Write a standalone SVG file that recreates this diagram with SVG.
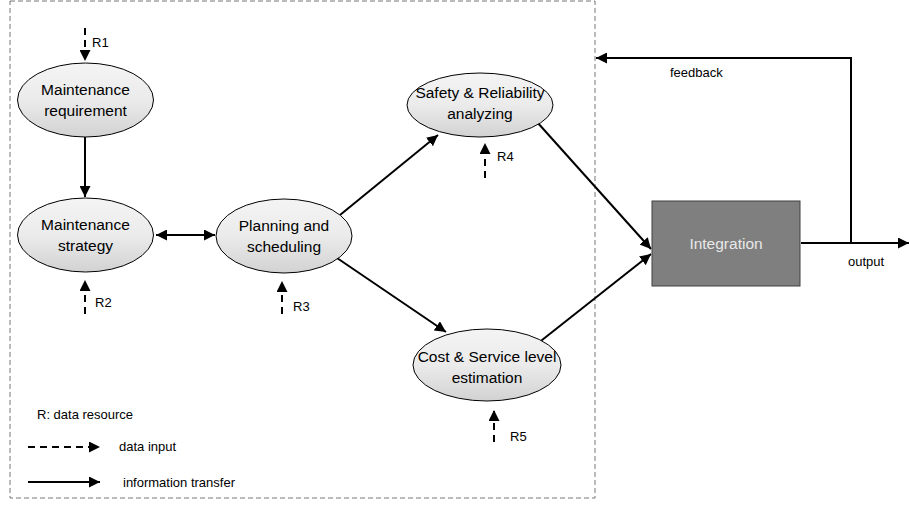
<svg xmlns="http://www.w3.org/2000/svg" width="909" height="506" viewBox="0 0 909 506">
<defs>
<linearGradient id="eg" x1="0" y1="0" x2="0" y2="1">
<stop offset="0" stop-color="#f4f4f4"/>
<stop offset="0.5" stop-color="#ebebeb"/>
<stop offset="1" stop-color="#d2d2d2"/>
</linearGradient>
<marker id="ah" viewBox="0 0 10 10" refX="10" refY="5" markerWidth="5.5" markerHeight="5.5" orient="auto-start-reverse" markerUnits="strokeWidth">
<path d="M0,0 L10,5 L0,10 z" fill="#000"/>
</marker>
</defs>
<style>
.ell{fill:url(#eg);stroke:#000;stroke-width:1}
.t{font-family:"Liberation Sans",Arial,sans-serif;font-size:15.5px;fill:#000;text-anchor:middle}
.s{font-family:"Liberation Sans",Arial,sans-serif;font-size:13px;fill:#000}
.solid{stroke:#000;stroke-width:2;fill:none;marker-end:url(#ah)}
.dash{stroke:#000;stroke-width:2;fill:none;stroke-dasharray:7,5;marker-end:url(#ah)}
</style>
<rect x="10" y="1" width="585" height="497" fill="none" stroke="#777" stroke-width="1" stroke-dasharray="5,3"/>
<g id="connectors">
<line class="solid" x1="85" y1="137" x2="85" y2="197"/>
<line class="solid" x1="156" y1="235" x2="215" y2="235" marker-start="url(#ah)"/>
<line class="solid" x1="340" y1="215" x2="438" y2="135"/>
<line class="solid" x1="337" y1="258" x2="446" y2="332"/>
<line class="solid" x1="537" y1="122" x2="651" y2="249"/>
<line class="solid" x1="537" y1="344" x2="651" y2="254"/>
<line class="solid" x1="801" y1="243" x2="909" y2="243"/>
<polyline class="solid" points="851,243 851,58 596,58"/>
<line class="dash" x1="85" y1="28" x2="85" y2="61"/>
<line class="dash" x1="85" y1="314" x2="85" y2="280"/>
<line class="dash" x1="282" y1="314" x2="282" y2="281"/>
<line class="dash" x1="485" y1="178" x2="485" y2="143"/>
<line class="dash" x1="494" y1="442" x2="494" y2="410"/>
<line class="dash" x1="28" y1="447" x2="100" y2="447"/>
<line class="solid" x1="28" y1="482" x2="100" y2="482"/>
</g>
<g id="n1"><ellipse class="ell" cx="85.5" cy="100" rx="68" ry="37"/><text class="t" x="85.5" y="95">Maintenance</text><text class="t" x="85.5" y="116">requirement</text></g>
<g id="n2"><ellipse class="ell" cx="85.5" cy="235" rx="68" ry="37"/><text class="t" x="85.5" y="230">Maintenance</text><text class="t" x="85.5" y="251">strategy</text></g>
<g id="n3"><ellipse class="ell" cx="284" cy="236" rx="68" ry="37"/><text class="t" x="284" y="231">Planning and</text><text class="t" x="284" y="252">scheduling</text></g>
<g id="n4"><ellipse class="ell" cx="480" cy="105" rx="73" ry="32"/><text class="t" x="480" y="98">Safety &amp; Reliability</text><text class="t" x="480" y="119">analyzing</text></g>
<g id="n5"><ellipse class="ell" cx="487" cy="365" rx="74" ry="36"/><text class="t" x="487" y="362">Cost &amp; Service level</text><text class="t" x="487" y="383">estimation</text></g>
<g id="n6"><rect x="652" y="201" width="148" height="85" fill="#7f7f7f" stroke="#404040" stroke-width="1"/><text class="t" x="726" y="249" style="fill:#e8e8e8">Integration</text></g>
<g id="labels">
<text class="s" x="92" y="47">R1</text>
<text class="s" x="95" y="307">R2</text>
<text class="s" x="293" y="311">R3</text>
<text class="s" x="497" y="161">R4</text>
<text class="s" x="510" y="441">R5</text>
<text class="s" x="670" y="77">feedback</text>
<text class="s" x="848" y="266">output</text>
<text class="s" x="37" y="419">R: data resource</text>
<text class="s" x="119" y="451">data input</text>
<text class="s" x="123" y="487">information transfer</text>
</g>
</svg>
